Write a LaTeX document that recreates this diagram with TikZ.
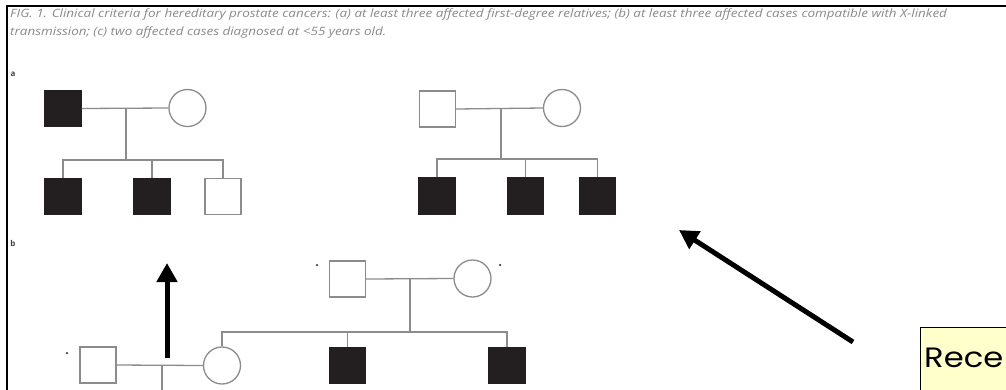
\documentclass[tikz,border=0pt]{standalone}
\usepackage{fontspec}
\setmainfont{Open Sans}
\newfontfamily\boxfont{Poppins}
\usetikzlibrary{arrows.meta}
\definecolor{pedgray}{HTML}{8C8C8C}
\definecolor{pedfill}{HTML}{231F20}
\definecolor{capgray}{HTML}{8A8A8A}
\definecolor{noteyellow}{HTML}{FFFFCC}
\tikzset{
  sqopen/.style={rectangle,draw=pedgray,line width=1.3pt,fill=white,minimum size=36pt,inner sep=0pt},
  sqfilled/.style={rectangle,draw=pedfill,line width=1.3pt,fill=pedfill,minimum size=36pt,inner sep=0pt},
  circ/.style={circle,draw=pedgray,line width=1.3pt,fill=white,minimum size=37pt,inner sep=0pt},
  pedline/.style={draw=pedgray,line width=1.3pt},
  bigarrow/.style={draw=black,line width=5pt,-{Triangle[width=20pt,length=19pt]}},
  frameline/.style={draw=black,line width=2pt},
  captxt/.style={anchor=base west,inner sep=0pt,text=capgray,xscale=1.17,transform shape,font=\fontsize{11.5}{13}\selectfont\itshape},
  lbl/.style={anchor=center,inner sep=0pt,text=black!75,font=\fontsize{8}{9}\selectfont\bfseries},
  dotmark/.style={circle,fill=black!75,inner sep=0pt,minimum size=2.5pt}
}
\begin{document}
\begin{tikzpicture}[x=1pt,y=-1pt]
\useasboundingbox (0,0) rectangle (1006,389);
\fill[white] (0,0) rectangle (1006,389);
\begin{scope}
\clip (0,0) rectangle (1006,389);
% frame
\coordinate (ftl) at (7,5.7);
\coordinate (ftr) at (1010,5.7);
\coordinate (fbl) at (7,395);
\draw[frameline] (ftr) -- (ftl) -- (fbl);
% caption
\node[captxt] (cap1) at (10,17.5) {FIG. 1. Clinical criteria for hereditary prostate cancers: (a) at least three affected first-degree relatives; (b) at least three affected cases compatible with X-linked};
\node[captxt] (cap2) at (10,35.5) {transmission; (c) two affected cases diagnosed at <55 years old.};
% labels
\node[lbl] (la) at (13,74) {a};
\node[lbl] (lb) at (13,243) {b};
% pedigree a left
\node[sqfilled] (a1) at (63,108.5) {};
\node[circ] (a2) at (187.5,108) {};
\coordinate (am) at (126,108);
\coordinate (asib) at (126,160);
\node[sqfilled] (a3) at (63,196.5) {};
\node[sqfilled] (a4) at (152,196.5) {};
\node[sqopen] (a5) at (223,196.5) {};
\draw[pedline] (a1.east) -- (a2.west);
\draw[pedline] (am) -- (asib);
\draw[pedline] (a3.north) |- (asib) -| (a5.north);
\draw[pedline] (a4.north) -- (a4.north |- asib);
% pedigree a right
\node[sqopen] (r1) at (437.5,109) {};
\node[circ] (r2) at (562,108) {};
\coordinate (rm) at (501,108);
\coordinate (rsib) at (501,159);
\node[sqfilled] (r3) at (437,196) {};
\node[sqfilled] (r4) at (525.5,196) {};
\node[sqfilled] (r5) at (597.5,196) {};
\draw[pedline] (r1.east) -- (r2.west);
\draw[pedline] (rm) -- (rsib);
\draw[pedline] (r3.north) |- (rsib) -| (r5.north);
\draw[pedline] (r4.north) -- (r4.north |- rsib);
% pedigree b
\node[sqopen] (t1) at (347.5,279) {};
\node[circ] (t2) at (472.5,278.5) {};
\coordinate (tm) at (410,278.5);
\coordinate (tsib) at (410,332);
\node[circ] (c1) at (222,365.5) {};
\node[sqfilled] (c2) at (347.5,365.5) {};
\node[sqfilled] (c3) at (507,365.5) {};
\node[sqopen] (s1) at (98,365) {};
\coordinate (sd) at (162,365);
\coordinate (sdb) at (162,395);
\draw[pedline] (t1.east) -- (t2.west);
\draw[pedline] (tm) -- (tsib);
\draw[pedline] (c1.north) |- (tsib) -| (c3.north);
\draw[pedline] (c2.north) -- (c2.north |- tsib);
\draw[pedline] (s1.east) -- (c1.west);
\draw[pedline] (sd) -- (sdb);
\node[dotmark] (m1) at (67,353) {};
\node[dotmark] (m2) at (317,265) {};
\node[dotmark] (m3) at (500,265) {};
% arrows
\coordinate (va1) at (167,358);
\coordinate (va2) at (167,263);
\draw[bigarrow] (va1) -- (va2);
\coordinate (da1) at (853,342);
\coordinate (da2) at (679,230);
\draw[bigarrow] (da1) -- (da2);
% note box
\draw[fill=noteyellow,draw=black,line width=1pt] (920.5,327.5) rectangle (1012,395);
\node[anchor=base west,inner sep=0pt,xscale=1.15,transform shape,font=\boxfont\fontsize{28}{32}\selectfont] (note) at (924,367) {Rece};
\end{scope}
\end{tikzpicture}
\end{document}
